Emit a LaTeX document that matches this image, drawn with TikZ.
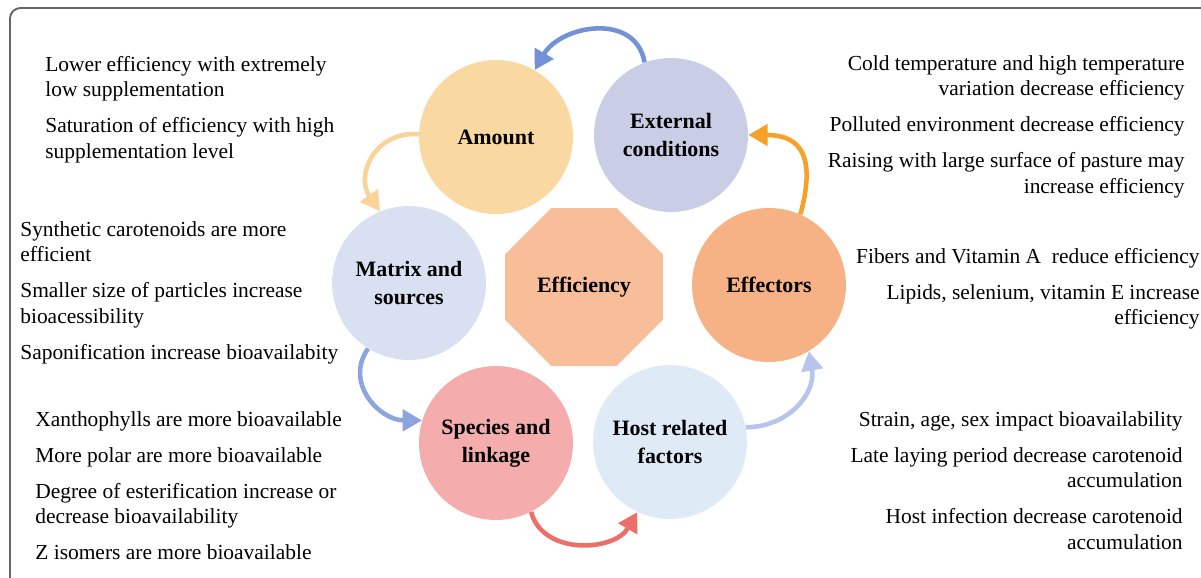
\documentclass[tikz,border=0pt]{standalone}
\usepackage{fontspec}
\setmainfont{Liberation Serif}
\usetikzlibrary{arrows.meta,shapes.geometric}

\definecolor{amountc}{RGB}{250,216,162}
\definecolor{extc}{RGB}{201,206,230}
\definecolor{effc}{RGB}{246,178,133}
\definecolor{hostc}{RGB}{223,234,247}
\definecolor{specc}{RGB}{244,172,172}
\definecolor{matc}{RGB}{217,224,242}
\definecolor{octc}{RGB}{248,190,154}
\definecolor{arrA}{RGB}{115,145,215}
\definecolor{arrB}{RGB}{249,211,152}
\definecolor{arrC}{RGB}{140,165,222}
\definecolor{arrD}{RGB}{236,112,106}
\definecolor{arrE}{RGB}{182,197,236}
\definecolor{arrF}{RGB}{247,160,42}

\begin{document}
\begin{tikzpicture}[x=0.02cm,y=-0.02cm,
	note/.style={font=\fontsize{12.2}{14.5}\selectfont,inner sep=0pt},
	lab/.style={font=\fontsize{12.5}{16}\selectfont\bfseries,align=center}]
	\useasboundingbox (0,0) rectangle (1201,578);
	\draw[gray!80!black,line width=1.1pt,rounded corners=6pt] (10,578) -- (10,8) -- (1201,8);

	\begin{scope}[every node/.style={circle,minimum size=3.08cm,inner sep=0pt,lab}]
		\node[fill=amountc] (a) at (496,137) {Amount};
		\node[fill=extc] (e) at (671,135) {External\\conditions};
		\node[fill=effc] (f) at (769,285) {Effectors};
		\node[fill=hostc] (h) at (670,442) {Host related\\factors};
		\node[fill=specc] (s) at (496,443) {Species and\\linkage};
		\node[fill=matc] (m) at (409,283) {Matrix and\\sources};
	\end{scope}
	\node[regular polygon,regular polygon sides=8,minimum size=3.42cm,inner sep=0pt,
		fill=octc,lab] (o) at (584,287) {Efficiency};

	\begin{scope}[line width=2.6pt,>={Triangle[length=11pt,width=12pt]}]
		\path (e.110) edge[->,arrA,out=100,in=60,looseness=1.2] (a.60);
		\path (a.178) edge[->,arrB,out=175,in=125,looseness=1.3] (m.112);
		\path (m.238) edge[->,arrC,out=235,in=180,looseness=1.2] (s.163);
		\path (s.297) edge[->,arrD,out=285,in=240,looseness=1.1] (h.245);
		\path (h.11) edge[->,arrE,out=0,in=-80,looseness=1.1] (f.301);
		\path (f.66) edge[->,arrF,out=75,in=0,looseness=1.5] (e.0);
	\end{scope}

	% notes, left side
	\node[note,anchor=north west,align=left] (n1) at (45,56)
		{Lower efficiency with extremely\\low supplementation\\[6pt]Saturation of efficiency with high\\supplementation level};
	\node[note,anchor=north west,align=left] (n2) at (20,221)
		{Synthetic carotenoids are more\\efficient\\[6pt]Smaller size of particles increase\\bioacessibility\\[6pt]Saponification increase bioavailabity};
	\node[note,anchor=north west,align=left] (n3) at (35,411)
		{Xanthophylls are more bioavailable\\[6pt]More polar are more bioavailable\\[6pt]Degree of esterification increase or\\decrease bioavailability\\[6pt]Z isomers are more bioavailable};

	% notes, right side
	\node[note,anchor=north east,align=right] (n4) at (1185,55)
		{Cold temperature and high temperature\\variation decrease efficiency\\[6pt]Polluted environment decrease efficiency\\[6pt]Raising with large surface of pasture may\\increase efficiency};
	\node[note,anchor=north east,align=right] (n5) at (1200,248)
		{Fibers and Vitamin A\ \ reduce efficiency\\[6pt]Lipids, selenium, vitamin E increase\\efficiency};
	\node[note,anchor=north east,align=right] (n6) at (1183,411)
		{Strain, age, sex impact bioavailability\\[6pt]Late laying period decrease carotenoid\\accumulation\\[6pt]Host infection decrease carotenoid\\accumulation};
\end{tikzpicture}
\end{document}
